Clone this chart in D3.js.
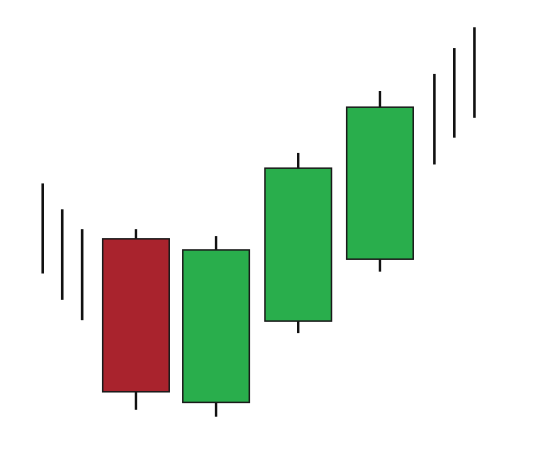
<!DOCTYPE html>
<html>
<head>
<meta charset="utf-8">
<script src="https://cdn.jsdelivr.net/npm/d3@7"></script>
<style>
  body { margin: 0; background: #fff; }
</style>
</head>
<body>
<div id="chart-area"></div>
<script>
// trend lines before and after the pattern
var leftX    = [2.08, 3.03, 4.0];
var leftHigh = [60.3, 54.7, 50.4];
var leftLow  = [40.8, 35.1, 30.7];

var rightX    = [21.15, 22.12, 23.1];
var rightHigh = [84.0, 89.6, 94.1];
var rightLow  = [64.4, 70.2, 74.5];

// the four candles
var candleX = [6.62, 10.52, 14.52, 18.5];
var opens   = [48.3, 12.9, 30.5, 43.9];
var closes  = [15.2, 45.9, 63.6, 76.8];
var highs   = [50.4, 48.9, 66.9, 80.3];
var lows    = [11.3, 9.8, 27.9, 41.2];

var svgWidth  = 534;
var svgHeight = 462;

var svg = d3.select("#chart-area")
            .append("svg")
            .attr("width", svgWidth)
            .attr("height", svgHeight);

var x = d3.scaleLinear()
          .domain([0, 26])
          .range([0, svgWidth]);

var y = d3.scaleLinear()
          .domain([0, 100])
          .range([svgHeight, 0]);

var bodyWidth = x(3.24) - x(0);

var lines = leftX.map((d, i) => ({ x: d, high: leftHigh[i], low: leftLow[i] }))
    .concat(rightX.map((d, i) => ({ x: d, high: rightHigh[i], low: rightLow[i] })));

svg.selectAll("line.trend")
   .data(lines)
   .enter()
   .append("line")
   .attr("class", "trend")
   .attr("x1", (d) => x(d.x))
   .attr("x2", (d) => x(d.x))
   .attr("y1", (d) => y(d.high))
   .attr("y2", (d) => y(d.low))
   .attr("stroke", "#111")
   .attr("stroke-width", 2.6);

var candles = candleX.map((d, i) => ({
    x: d, open: opens[i], close: closes[i], high: highs[i], low: lows[i]
}));

var g = svg.selectAll("g.candle")
           .data(candles)
           .enter()
           .append("g")
           .attr("class", "candle");

// wicks
g.append("line")
 .attr("x1", (d) => x(d.x))
 .attr("x2", (d) => x(d.x))
 .attr("y1", (d) => y(d.high))
 .attr("y2", (d) => y(d.low))
 .attr("stroke", "#111")
 .attr("stroke-width", 2.4);

// bodies
g.append("rect")
 .attr("x", (d) => x(d.x) - bodyWidth / 2)
 .attr("width", bodyWidth)
 .attr("y", (d) => y(Math.max(d.open, d.close)))
 .attr("height", (d) => Math.abs(y(d.open) - y(d.close)))
 .attr("fill", (d) => d.close > d.open ? "#29AE4C" : "#A9232D")
 .attr("stroke", "#1a1a1a")
 .attr("stroke-width", 1.5);
</script>
</body>
</html>
